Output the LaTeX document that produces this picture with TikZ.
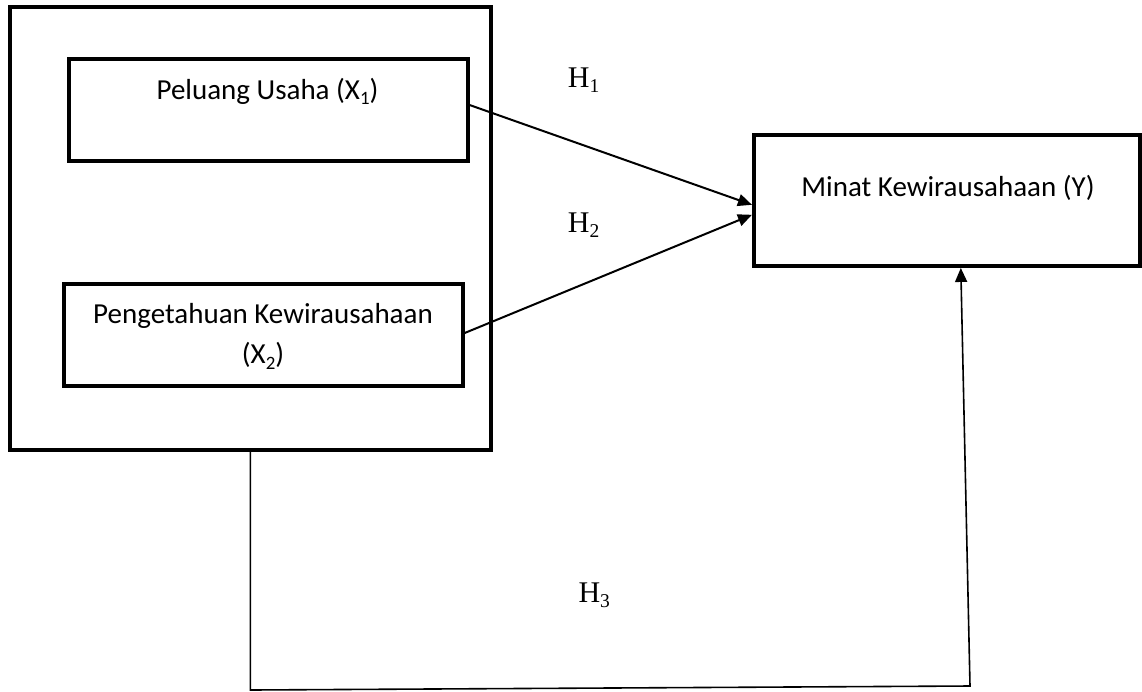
\documentclass[tikz,border=0pt]{standalone}
\usepackage{fontspec}
\setmainfont{Carlito}
\newfontfamily\hfont{Liberation Serif}
\usetikzlibrary{arrows.meta}
\newcommand\subidx[1]{\raisebox{-0.18em}{\scalebox{0.65}{#1}}}
\tikzset{
  frame/.style={draw, line width=4pt, inner sep=0pt},
  vartext/.style={font=\fontsize{29}{40.5}\selectfont, inner sep=0pt, anchor=base, align=center},
  hyp/.style={font=\hfont\fontsize{30}{30}\selectfont, inner sep=0pt, anchor=base west},
  link/.style={line width=2pt, -{Triangle[length=14pt,width=12pt]}}
}
\begin{document}
\begin{tikzpicture}[x=1pt,y=-1pt]
  \useasboundingbox (0,0) rectangle (1142,691);
  \node[frame, minimum width=481pt, minimum height=442.5pt] (outer) at (250.4,228.3) {};
  \node[frame, minimum width=399pt, minimum height=101.5pt] (x1) at (268.1,110) {};
  \node[frame, minimum width=398.4pt, minimum height=102.6pt] (x2) at (263.5,335) {};
  \node[frame, minimum width=385.7pt, minimum height=131.3pt] (y) at (946.8,200.3) {};
  \node[vartext] (x1txt) at (267.5,99.3) {Peluang Usaha (X\subidx{1})};
  \node[vartext] (x2txt) at (263,363.8) {Pengetahuan Kewirausahaan\\(X\subidx{2})};
  \node[vartext] (ytxt) at (948,196) {Minat Kewirausahaan (Y)};
  \node[hyp] (h1) at (567.7,87.3) {H\subidx{1}};
  \node[hyp] (h2) at (567.7,232.3) {H\subidx{2}};
  \node[hyp] (h3) at (578.3,602.3) {H\subidx{3}};
  \coordinate (c1) at (250.4,690);
  \coordinate (c2) at (970,686);
  \draw[link] ([yshift=5pt]x1.east) -- ([yshift=-4.5pt]y.west);
  \draw[link] ([yshift=2pt]x2.east) -- ([yshift=-14.5pt]y.west);
  \draw[link, line width=1.6pt] (outer.south) -- (c1) -- (c2) -- ([xshift=14pt]y.south);
\end{tikzpicture}
\end{document}
